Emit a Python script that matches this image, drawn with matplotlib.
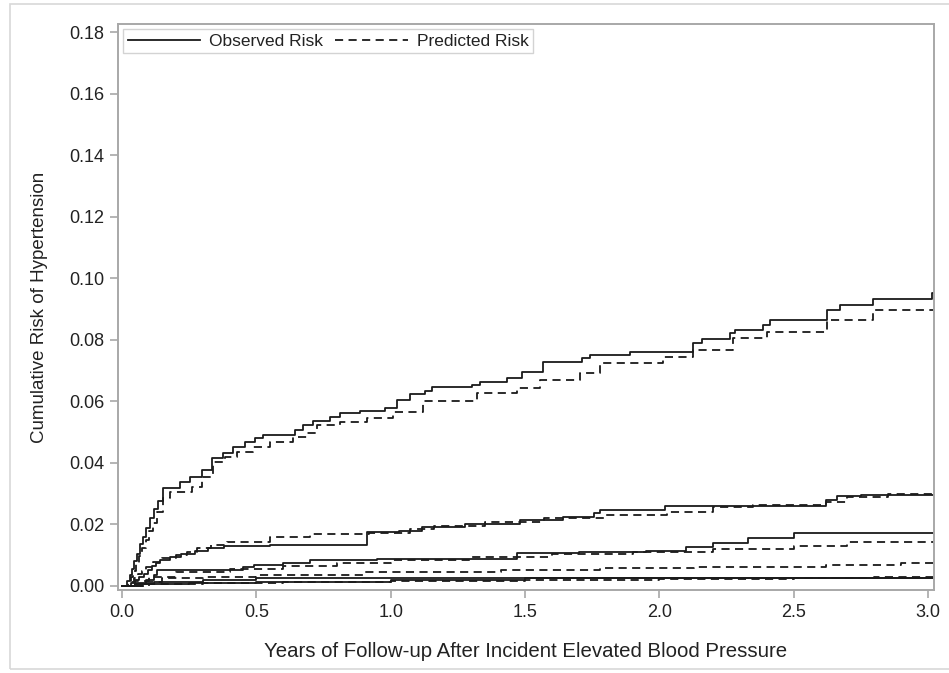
import matplotlib
matplotlib.use("Agg")
import matplotlib.pyplot as plt
from matplotlib.patches import Rectangle

plt.rcParams['font.family'] = ['Liberation Sans', 'DejaVu Sans']

# step curves, 5 risk groups: observed (solid) and predicted (dashed)
#=====================================================================
g1_obs_x = [0.0, 0.012, 0.02, 0.028, 0.036, 0.045, 0.055, 0.067, 0.078, 0.09, 0.104, 0.118,
            0.134, 0.153, 0.216, 0.253, 0.298, 0.335,
            0.376, 0.413, 0.458, 0.495, 0.525, 0.644, 0.674, 0.711, 0.774, 0.811,
            0.886, 0.979, 1.024, 1.072, 1.128, 1.154, 1.303, 1.333, 1.433, 1.489,
            1.567, 1.712, 1.742, 1.891, 2.126, 2.159, 2.263, 2.282, 2.386, 2.412,
            2.624, 2.672, 2.795, 3.015]
g1_obs_y = [0.0, 0.0, 0.0015, 0.0035, 0.0055, 0.008, 0.0105, 0.0135, 0.016, 0.019, 0.0222, 0.025,
            0.0275, 0.0318, 0.0338, 0.0354, 0.0377, 0.0415,
            0.0432, 0.0451, 0.0468, 0.048, 0.049, 0.0506, 0.0523, 0.0536, 0.0549, 0.0561,
            0.0568, 0.0577, 0.0604, 0.0623, 0.0633, 0.0646, 0.0653, 0.0662, 0.0675, 0.0695,
            0.0727, 0.074, 0.075, 0.076, 0.0789, 0.0802, 0.0821, 0.0831, 0.0847, 0.0864,
            0.0896, 0.0912, 0.0932, 0.0951]
g1_pred_x = [0.0, 0.012, 0.022, 0.032, 0.042, 0.052, 0.063, 0.075, 0.088, 0.1, 0.115, 0.13,
             0.153, 0.18, 0.26, 0.298, 0.339, 0.383,
             0.428, 0.488, 0.551, 0.636, 0.689, 0.726, 0.811, 0.912, 1.009, 1.12, 1.32,
             1.47, 1.556, 1.705, 1.779, 2.014, 2.126, 2.275, 2.4, 2.624, 2.795]
g1_pred_y = [0.0, 0.0, 0.0012, 0.003, 0.005, 0.0072, 0.0098, 0.0125, 0.015, 0.018, 0.0205, 0.024,
             0.0286, 0.0305, 0.0322, 0.0354, 0.0403,
             0.0419, 0.0435, 0.0451, 0.0468, 0.0484, 0.0497, 0.0523, 0.0532, 0.0545, 0.0565,
             0.0601, 0.0626, 0.0643, 0.0669, 0.0692, 0.0724, 0.0744, 0.0766, 0.0805, 0.0825,
             0.0864, 0.0896]

g2_obs_x = [0.0, 0.015, 0.035, 0.05, 0.065, 0.08, 0.095, 0.11, 0.125, 0.14, 0.18, 0.22, 0.27,
            0.32, 0.38, 0.55, 0.91,
            1.03, 1.115, 1.277, 1.48, 1.64, 1.755, 1.78, 2.02, 2.62, 2.66, 2.75]
g2_obs_y = [0.0, 0.0, 0.001, 0.002, 0.003, 0.004, 0.0052, 0.0065, 0.0076, 0.0085, 0.0095,
            0.0105, 0.0115, 0.0125, 0.0131,
            0.0134, 0.0175, 0.0178, 0.0193, 0.0201, 0.0214, 0.0225, 0.0236, 0.0247, 0.026,
            0.028, 0.0292, 0.0297]
g2_pred_x = [0.0, 0.015, 0.03, 0.045, 0.06, 0.075, 0.09, 0.115, 0.15, 0.2, 0.24, 0.28, 0.33,
             0.39, 0.55, 0.7, 0.92, 1.07, 1.16,
             1.35, 1.57, 1.8, 2.03, 2.2, 2.35, 2.62, 2.7, 2.85]
g2_pred_y = [0.0, 0.0, 0.0012, 0.0025, 0.0038, 0.005, 0.0062, 0.0079, 0.009, 0.010, 0.0112,
             0.0122, 0.0134, 0.0144, 0.016, 0.0168, 0.0173,
             0.0184, 0.0195, 0.0208, 0.022, 0.023, 0.024, 0.0256, 0.0263, 0.0273, 0.0288,
             0.0298]

g3_obs_x = [0.0, 0.02, 0.05, 0.09, 0.12, 0.13, 0.45, 0.49, 0.6, 0.7, 0.95, 1.47, 1.7,
            1.95, 2.1, 2.2, 2.33, 2.5]
g3_obs_y = [0.0, 0.0, 0.001, 0.002, 0.0035, 0.0052, 0.0062, 0.0068, 0.0076, 0.0084, 0.0088,
            0.0106, 0.011, 0.0115, 0.0128, 0.014, 0.0155, 0.0172]
g3_pred_x = [0.0, 0.02, 0.05, 0.1, 0.2, 0.4, 0.6, 0.8, 1.0, 1.3, 1.6, 1.9, 2.2, 2.5, 2.7]
g3_pred_y = [0.0, 0.0, 0.0015, 0.003, 0.0045, 0.0055, 0.0065, 0.0075, 0.0085, 0.0095,
             0.0105, 0.011, 0.012, 0.013, 0.0143]

g4_obs_x = [0.0, 0.02, 0.05, 0.12, 0.3, 0.5, 1.0]
g4_obs_y = [0.0, 0.0, 0.0008, 0.0013, 0.002, 0.0025, 0.0026]
g4_pred_x = [0.0, 0.02, 0.08, 0.15, 0.3, 0.5, 0.9, 1.41, 1.78, 2.13, 2.62, 2.9]
g4_pred_y = [0.0, 0.0, 0.0012, 0.0025, 0.003, 0.0036, 0.0046, 0.0052, 0.0058, 0.0062,
             0.0068, 0.0075]

g5_obs_x = [0.0, 0.02, 0.05, 0.25, 0.5, 1.0, 1.5, 2.5]
g5_obs_y = [0.0, 0.0, 0.0005, 0.001, 0.0013, 0.002, 0.0025, 0.0027]
g5_pred_x = [0.0, 0.02, 0.1, 0.3, 0.6, 1.0, 1.5, 2.0, 2.5, 2.8]
g5_pred_y = [0.0, 0.0, 0.0005, 0.001, 0.0014, 0.0017, 0.002, 0.0023, 0.0026, 0.0029]

observed = [(g1_obs_x, g1_obs_y), (g2_obs_x, g2_obs_y), (g3_obs_x, g3_obs_y),
            (g4_obs_x, g4_obs_y), (g5_obs_x, g5_obs_y)]
predicted = [(g1_pred_x, g1_pred_y), (g2_pred_x, g2_pred_y), (g3_pred_x, g3_pred_y),
             (g4_pred_x, g4_pred_y), (g5_pred_x, g5_pred_y)]

x_end = 3.022
x_ticks = [0.0, 0.5, 1.0, 1.5, 2.0, 2.5, 3.0]
y_ticks = [0.00, 0.02, 0.04, 0.06, 0.08, 0.10, 0.12, 0.14, 0.16, 0.18]

#figure
#=============================
fig = plt.figure(figsize=(9.49, 6.73), dpi=100)
fig.patches.append(Rectangle((10/949, 4/673), 1.2, 665/673, transform=fig.transFigure,
                             fill=False, edgecolor='#d8d8d8', linewidth=1.2))
ax = fig.add_axes([118/949, 1 - 590/673, 816/949, 566/673])

ink = '#1a1a1a'
dash = (0, (4.5, 3.0))
for i, (xs, ys) in enumerate(observed):
    ax.step(list(xs) + [x_end], list(ys) + [ys[-1]], where='post', color=ink,
            linewidth=1.3, label='Observed Risk' if i == 0 else None)
for i, (xs, ys) in enumerate(predicted):
    ax.step(list(xs) + [x_end], list(ys) + [ys[-1]], where='post', color=ink,
            linewidth=1.3, linestyle=dash, label='Predicted Risk' if i == 0 else None)

ax.set_xlim(-0.015, x_end)
ax.set_ylim(-0.0013, 0.1826)
ax.set_xticks(x_ticks)
ax.set_xticklabels(['%.1f' % v for v in x_ticks])
ax.set_yticks(y_ticks)
ax.set_yticklabels(['%.2f' % v for v in y_ticks])

for s in ax.spines.values():
    s.set_color('#a8a8a8')
    s.set_linewidth(1.4)
ax.tick_params(axis='both', direction='out', length=6, width=1.2, color='#a8a8a8',
               labelsize=13, labelcolor='#222222', pad=4)

ax.set_xlabel('Years of Follow-up After Incident Elevated Blood Pressure',
              fontsize=14.7, color='#222222', labelpad=15)
ax.set_ylabel('Cumulative Risk of Hypertension', fontsize=13.5, color='#222222', labelpad=15)

leg = ax.legend(loc='upper left', ncol=2, fontsize=12.5, frameon=True, fancybox=False,
                handlelength=4.2, handletextpad=0.5, columnspacing=0.7,
                borderpad=0.25, borderaxespad=0.3)
leg.get_frame().set_edgecolor('#c8c8c8')
leg.get_frame().set_linewidth(1.0)
for t in leg.get_texts():
    t.set_color('#222222')

fig.savefig('out.png', dpi=100)
